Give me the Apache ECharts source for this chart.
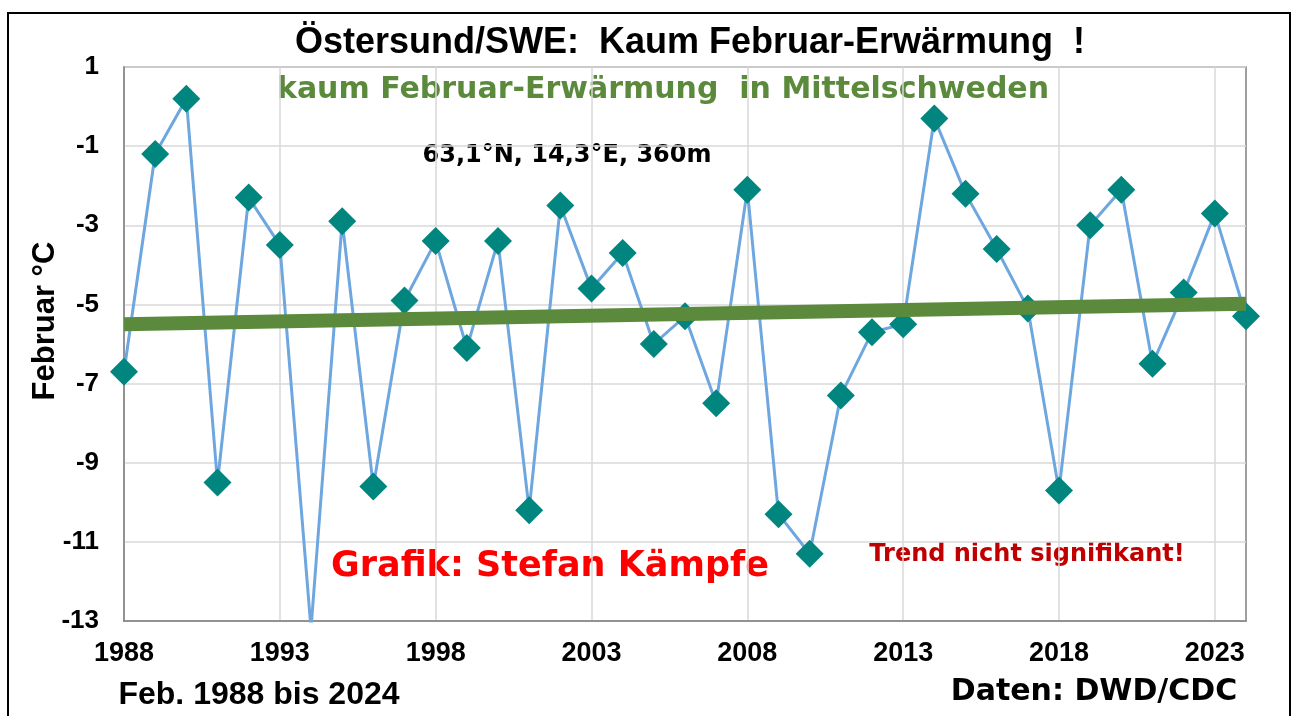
<!DOCTYPE html>
<html lang="de">
<head>
    <meta charset="UTF-8"/>
    <style>
        html, body { margin: 0; padding: 0; background: #fff; }
    </style>
</head>
<body>

<div id="main" style="width: 1293px;height:716px;"></div>

<script src="https://cdn.jsdelivr.net/npm/echarts@6/dist/echarts.min.js"></script>
<script type="text/javascript">

    // Februar-Mitteltemperatur Östersund, 1988 - 2024
    var years = ['1988','1989','1990','1991','1992','1993','1994','1995','1996','1997',
                 '1998','1999','2000','2001','2002','2003','2004','2005','2006','2007',
                 '2008','2009','2010','2011','2012','2013','2014','2015','2016','2017',
                 '2018','2019','2020','2021','2022','2023','2024'];
    var temps = [-6.7, -1.2, 0.2, -9.5, -2.3, -3.5, -13.2, -2.9, -9.6, -4.9,
                 -3.4, -6.1, -3.4, -10.2, -2.5, -4.6, -3.7, -6.0, -5.3, -7.5,
                 -2.1, -10.3, -11.3, -7.3, -5.7, -5.5, -0.3, -2.2, -3.6, -5.1,
                 -9.7, -3.0, -2.1, -6.5, -4.7, -2.7, -5.3];

    // linearer Trend (Anfang / Ende)
    var trendYears = ['1988', '2024'];
    var trendValues = [-5.5, -4.98];

    // y-Achse
    var yMin = -13, yMax = 1, yStep = 2;

    DrawEChart(echarts);

    function DrawEChart(echarts) {
        var myChart = echarts.init(document.getElementById('main'));

        var trendData = [];
        for (var i = 0; i < trendYears.length; i++) {
            trendData.push([trendYears[i], trendValues[i]]);
        }

        var boldFont = 'Liberation Sans';

        var options = {
            backgroundColor: '#ffffff',
            animation: false,
            grid: {
                left: 124,
                right: 47,
                top: 67,
                bottom: 95,
                show: true,
                borderColor: '#808080',
                borderWidth: 1.5
            },
            xAxis: {
                type: 'category',
                data: years,
                boundaryGap: false,
                axisLine: { onZero: false, lineStyle: { color: '#808080', width: 1.5 } },
                axisTick: { show: false },
                axisLabel: {
                    interval: 4,
                    margin: 19,
                    color: '#000',
                    fontFamily: boldFont,
                    fontWeight: 'bold',
                    fontSize: 27
                },
                splitLine: {
                    show: true,
                    interval: 4,
                    lineStyle: { color: '#d9d9d9', width: 1.5 }
                }
            },
            yAxis: {
                type: 'value',
                min: yMin,
                max: yMax,
                interval: yStep,
                axisLine: { show: true, lineStyle: { color: '#808080', width: 1.5 } },
                axisTick: { show: false },
                axisLabel: {
                    margin: 25,
                    color: '#000',
                    fontFamily: boldFont,
                    fontWeight: 'bold',
                    fontSize: 26
                },
                splitLine: { lineStyle: { color: '#d9d9d9', width: 1.5 } }
            },
            graphic: [
                {
                    type: 'rect',
                    shape: { x: 8, y: 13, width: 1282, height: 710 },
                    style: { fill: 'none', stroke: '#000', lineWidth: 2 },
                    silent: true
                },
                {
                    type: 'text', x: 690, y: 43,
                    style: {
                        text: 'Östersund/SWE:  Kaum Februar-Erwärmung  !',
                        fill: '#000', font: 'bold 36px "Liberation Sans"',
                        textAlign: 'center', textVerticalAlign: 'middle'
                    }
                },
                {
                    type: 'text', x: 663, y: 90,
                    style: {
                        text: 'kaum Februar-Erwärmung  in Mittelschweden',
                        fill: '#5b8a3c', font: 'bold 30px "DejaVu Sans"',
                        textAlign: 'center', textVerticalAlign: 'middle'
                    }
                },
                {
                    type: 'text', x: 567, y: 156,
                    style: {
                        text: '63,1°N, 14,3°E, 360m',
                        fill: '#000', font: 'bold 24px "DejaVu Sans"',
                        textAlign: 'center', textVerticalAlign: 'middle'
                    }
                },
                {
                    type: 'text', x: 550, y: 567,
                    style: {
                        text: 'Grafik: Stefan Kämpfe',
                        fill: '#ff0000', font: 'bold 35px "DejaVu Sans"',
                        textAlign: 'center', textVerticalAlign: 'middle'
                    }
                },
                {
                    type: 'text', x: 1027, y: 555,
                    style: {
                        text: 'Trend nicht signifikant!',
                        fill: '#c00000', font: 'bold 24px "DejaVu Sans"',
                        textAlign: 'center', textVerticalAlign: 'middle'
                    }
                },
                {
                    type: 'text', x: 45, y: 321, rotation: Math.PI / 2,
                    style: {
                        text: 'Februar °C',
                        fill: '#000', font: 'bold 31px "Liberation Sans"',
                        textAlign: 'center', textVerticalAlign: 'middle'
                    }
                },
                {
                    type: 'text', x: 259, y: 695,
                    style: {
                        text: 'Feb. 1988 bis 2024',
                        fill: '#000', font: 'bold 32px "Liberation Sans"',
                        textAlign: 'center', textVerticalAlign: 'middle'
                    }
                },
                {
                    type: 'text', x: 1094, y: 692,
                    style: {
                        text: 'Daten: DWD/CDC',
                        fill: '#000', font: 'bold 30px "DejaVu Sans"',
                        textAlign: 'center', textVerticalAlign: 'middle'
                    }
                }
            ],
            series: [
                {
                    name: 'Februar',
                    type: 'line',
                    data: temps,
                    clip: true,
                    symbol: 'diamond',
                    symbolSize: 28,
                    showAllSymbol: true,
                    itemStyle: { color: '#00857f' },
                    lineStyle: { color: '#6ea7df', width: 3 },
                    z: 3
                },
                {
                    name: 'Trend',
                    type: 'line',
                    data: trendData,
                    symbol: 'none',
                    lineStyle: { color: '#5b8a3c', width: 14, cap: 'butt' },
                    z: 4
                }
            ]
        };

        myChart.setOption(options);
    }

</script>

</body>
</html>
